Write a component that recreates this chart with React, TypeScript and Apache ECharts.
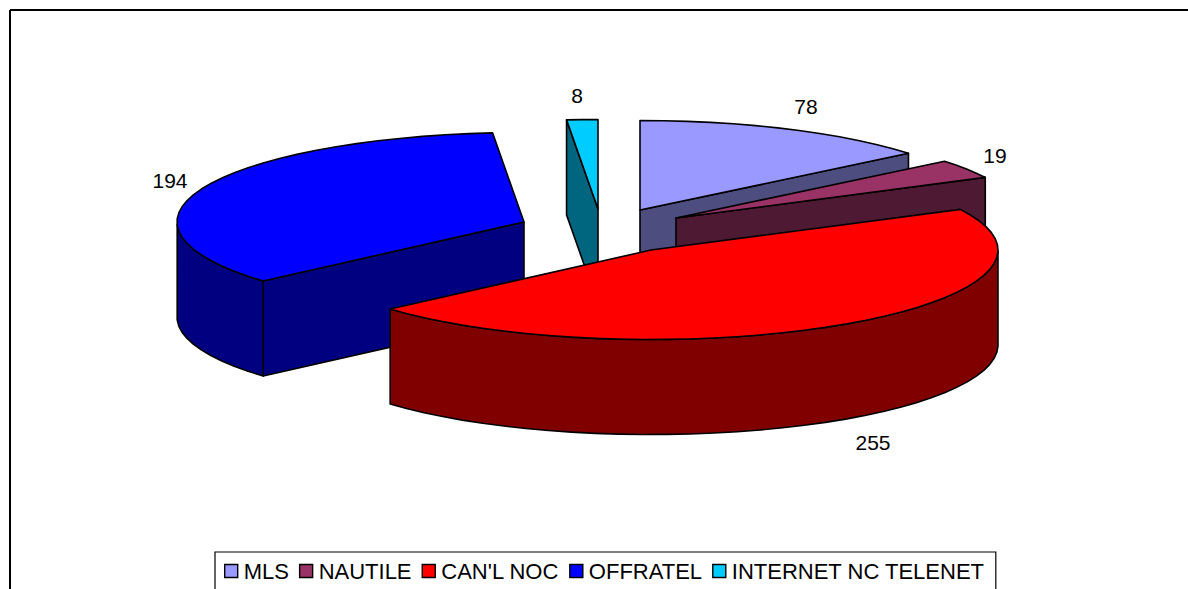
import React, { useEffect, useRef } from "react";
import * as echarts from "echarts";

const categories = ["MLS", "NAUTILE", "CAN'L NOC", "OFFRATEL", "INTERNET NC TELENET"];
const values = [78, 19, 255, 194, 8];
const topColors = ["#9999FF", "#993366", "#FF0000", "#0000FF", "#00CCFF"];
const sideColors = ["#4D4D80", "#4D1933", "#800000", "#000080", "#006680"];

// Layout of the exploded 3D pie: one centre per slice, one label position per slice
const centerX = [640, 676, 651, 524, 598];
const centerY = [210, 218, 250, 222, 209];
const labelX = [806, 995, 873, 170, 577];
const labelY = [106, 155, 442, 180, 95];
const radiusX = 347;
const radiusY = 89.5;
const depth = 95;
const drawOrder = [0, 1, 4, 3, 2];
const FONT = '21px "Liberation Sans", Arial, sans-serif';

const total = values.reduce((a, b) => a + b, 0);
const startAngle = (i: number) =>
  (values.slice(0, i).reduce((a, b) => a + b, 0) / total) * Math.PI * 2;

function renderSlice(i: number) {
  return (_params: any, api: any) => {
    const value = api.value(0);
    const a0 = startAngle(i);
    const a1 = a0 + (value / total) * Math.PI * 2;
    const cx = centerX[i];
    const cy = centerY[i];
    const pt = (a: number, dy = 0) => [cx + radiusX * Math.sin(a), cy - radiusY * Math.cos(a) + dy];
    const steps = Math.max(2, Math.ceil((a1 - a0) / 0.07));
    const arc: number[][] = [];
    for (let s = 0; s <= steps; s++) arc.push(pt(a0 + ((a1 - a0) * s) / steps));
    const stroke = { stroke: "#000", lineWidth: 1.6, lineJoin: "round" };
    const side = { fill: sideColors[i], ...stroke };
    const children: any[] = [];
    const face = (points: number[][]) =>
      children.push({ type: "polygon", shape: { points }, style: side });
    const faces = [
      { a: a0, visible: Math.sin(a0) < 0 || Math.cos(a0) < -0.2 },
      { a: a1, visible: Math.sin(a1) > 0 || a1 > 6.2 },
    ];
    // cut face at the end of the slice (right side) and at the start (left side)
    if (i === 4) {
      face([pt(a0), [cx, cy], [cx, cy + depth], pt(a0, depth)]);
    } else {
      faces.forEach((f) => {
        if (f.visible && f.a < 6.2 && f.a > 0.01) {
          face([[cx, cy], pt(f.a), pt(f.a, depth), [cx, cy + depth]]);
        }
      });
    }
    // outer wall, only the part that faces the viewer
    const front: number[][] = [];
    for (let s = 0; s <= steps; s++) {
      const a = a0 + ((a1 - a0) * s) / steps;
      if (Math.cos(a) <= 0.001) front.push(pt(a));
    }
    if (front.length > 1) {
      const lower = front.map((p) => [p[0], p[1] + depth]).reverse();
      face([...front, ...lower]);
    }
    children.push({
      type: "polygon",
      shape: { points: [[cx, cy], ...arc] },
      style: { fill: topColors[i], ...stroke },
    });
    children.push({
      type: "text",
      style: {
        text: String(value),
        x: labelX[i],
        y: labelY[i],
        fill: "#000",
        font: FONT,
        textAlign: "center",
        textVerticalAlign: "middle",
      },
    });
    return { type: "group", children };
  };
}

export default function App() {
  const ref = useRef<HTMLDivElement>(null);
  useEffect(() => {
    document.body.style.margin = "0";
    const chart = echarts.init(ref.current!, undefined, { renderer: "svg" });
    chart.setOption({
      animation: false,
      backgroundColor: "#fff",
      legend: {
        data: categories,
        left: 215,
        top: 552,
        orient: "horizontal",
        width: 900,
        icon: "rect",
        itemWidth: 13,
        itemHeight: 13,
        itemGap: 10,
        padding: [8, 11, 30, 9],
        borderColor: "#000",
        borderWidth: 1.2,
        itemStyle: { borderColor: "#000", borderWidth: 1.4 },
        textStyle: { fontFamily: '"Liberation Sans", Arial, sans-serif', fontSize: 22, color: "#000", padding: [0, 0, 0, 1] },
      },
      graphic: [
        { type: "line", shape: { x1: 10, y1: 10, x2: 1188, y2: 10 }, style: { stroke: "#000", lineWidth: 2 }, silent: true },
        { type: "line", shape: { x1: 10, y1: 10, x2: 10, y2: 589 }, style: { stroke: "#000", lineWidth: 2 }, silent: true },
      ],
      series: drawOrder.map((i) => ({
        type: "custom",
        name: categories[i],
        coordinateSystem: "none",
        silent: true,
        itemStyle: { color: topColors[i] },
        renderItem: renderSlice(i),
        data: [[values[i]]],
      })),
    });
    return () => chart.dispose();
  }, []);
  return <div ref={ref} style={{ width: 1188, height: 589 }} />;
}
